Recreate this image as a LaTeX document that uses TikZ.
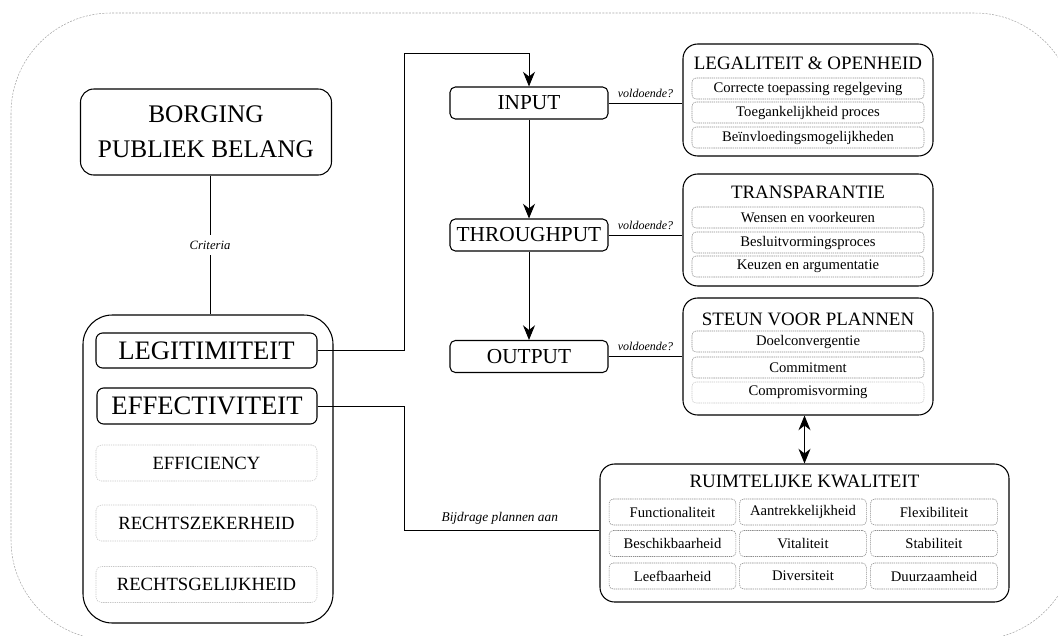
\documentclass[tikz,border=0pt]{standalone}
\usepackage{fontspec}
\setmainfont{Liberation Serif}
\usetikzlibrary{arrows.meta,calc}
\begin{document}
\begin{tikzpicture}[x=0.75pt,y=-0.75pt,
  box/.style={draw, line width=0.8pt, rounded corners=#1, align=center, inner sep=0pt},
  box/.default=4pt,
  item/.style={draw=gray!90, line width=0.4pt, dash pattern=on 1pt off 0.6pt, rounded corners=3pt,
    minimum width=174pt, minimum height=15.75pt, inner sep=0pt, font=\fontsize{11}{13}\selectfont},
  litem/.style={draw=gray!45, line width=0.4pt, dash pattern=on 1pt off 0.7pt, rounded corners=4pt,
    minimum width=165.75pt, minimum height=27pt, inner sep=0pt, font=\fontsize{14}{16}\selectfont},
  cell/.style={item, minimum width=95pt, minimum height=19.5pt},
  stage/.style={box=4pt, minimum width=118.5pt, minimum height=24pt, font=\fontsize{16}{18}\selectfont},
  group/.style={box=11pt, minimum width=187.5pt, minimum height=84pt},
  gtitle/.style={inner sep=0pt, font=\fontsize{14.2}{16}\selectfont},
  lab/.style={inner sep=1pt, font=\itshape\fontsize{9}{11}\selectfont},
  conn/.style={line width=0.7pt},
  tip/.tip={Stealth[length=11pt,width=9pt,inset=3.5pt]},
  arr/.style={conn, -tip},
  darr/.style={conn, tip-tip}
]
\useasboundingbox (0,0) rectangle (1058,636);
\begin{scope}
\clip (0,0) rectangle (1058,636);
\draw[gray!70, line width=0.4pt, dash pattern=on 1.5pt off 1pt, rounded corners=75pt] (11,13) rectangle (1075,640);
\end{scope}

% left column
\node[box=10pt, minimum width=188.25pt, minimum height=64.5pt, font=\fontsize{19}{26}\selectfont] (borg) at (206,132) {BORGING\\PUBLIEK BELANG};
\node[box=22pt, minimum width=187.5pt, minimum height=231pt] (big) at (208,469) {};
\node[box=5pt, minimum width=165.75pt, minimum height=26.25pt, font=\fontsize{20}{22}\selectfont] (legit) at (206.5,350.5) {LEGITIMITEIT};
\node[box=5pt, minimum width=165pt, minimum height=27pt, font=\fontsize{20}{22}\selectfont] (effect) at (207,406) {EFFECTIVITEIT};
\node[litem] (effic) at (206.5,463) {EFFICIENCY};
\node[litem] (rzek) at (206.5,523) {RECHTSZEKERHEID};
\node[litem] (rgel) at (206.5,584.5) {RECHTSGELIJKHEID};

\draw[conn] (borg.south -| 210,0) -- node[lab, fill=white, font=\itshape\fontsize{9.5}{11}\selectfont, inner ysep=4pt] {Criteria} (big.north -| 210,0);

% stages
\node[stage] (input) at (529,103) {INPUT};
\node[stage] (through) at (529,235) {THROUGHPUT};
\node[stage] (output) at (529,356.5) {OUTPUT};
\draw[arr] (input) -- (through);
\draw[arr] (through) -- (output);

\coordinate (l1) at (404,350.5);
\coordinate (l2) at (404,53);
\draw[arr] (legit.east) -- (l1) -- (l2) -- (l2 -| input.north) -- (input.north);

% criteria groups
\node[group] (leg) at (808,100) {};
\node[gtitle] (legT) at (808,63) {LEGALITEIT \& OPENHEID};
\node[item] (leg1) at (808,88.5) {Correcte toepassing regelgeving};
\node[item] (leg2) at (808,112.5) {Toegankelijkheid proces};
\node[item] (leg3) at (808,137.5) {Beïnvloedingsmogelijkheden};

\node[group] (trans) at (808,230) {};
\node[gtitle] (transT) at (808,192) {TRANSPARANTIE};
\node[item] (tr1) at (808,217.5) {Wensen en voorkeuren};
\node[item] (tr2) at (808,242.5) {Besluitvormingsproces};
\node[item] (tr3) at (808,266.5) {Keuzen en argumentatie};

\node[group, minimum height=87.75pt] (steun) at (808,356.5) {};
\node[gtitle] (steunT) at (808,319) {STEUN VOOR PLANNEN};
\node[item] (st1) at (808,341.5) {Doelconvergentie};
\node[item] (st2) at (808,367.5) {Commitment};
\node[item, draw=gray!45] (st3) at (808,392.5) {Compromisvorming};

\draw[conn] (input.east) -- node[lab, above=3pt] {voldoende?} (input.east -| leg.west);
\draw[conn] (through.east) -- node[lab, above=3pt] {voldoende?} (through.east -| trans.west);
\draw[conn] (output.east) -- node[lab, above=3pt] {voldoende?} (output.east -| steun.west);

% ruimtelijke kwaliteit
\node[group, box=11pt, minimum width=306.75pt, minimum height=103.5pt] (ruim) at (804.5,533) {};
\node[gtitle] (ruimT) at (804.5,481) {RUIMTELIJKE KWALITEIT};
\node[cell] (c11) at (672.5,512) {Functionaliteit};
\node[cell] (c12) at (803,512) {Aantrekkelijkheid};
\node[cell] (c13) at (934,512) {Flexibiliteit};
\node[cell] (c21) at (672.5,543.5) {Beschikbaarheid};
\node[cell] (c22) at (803,543.5) {Vitaliteit};
\node[cell] (c23) at (934,543.5) {Stabiliteit};
\node[cell] (c31) at (672.5,576) {Leefbaarheid};
\node[cell] (c32) at (803,576) {Diversiteit};
\node[cell] (c33) at (934,576) {Duurzaamheid};

\draw[darr] (ruim.north |- steun.south) -- (ruim.north);

\coordinate (e1) at (404,406);
\coordinate (e2) at (404,530);
\draw[conn] (effect.east) -- (e1) -- (e2) -- node[lab, above=3pt, font=\itshape\fontsize{10}{12}\selectfont, pos=0.49] {Bijdrage plannen aan} (e2 -| ruim.west);
\end{tikzpicture}
\end{document}
